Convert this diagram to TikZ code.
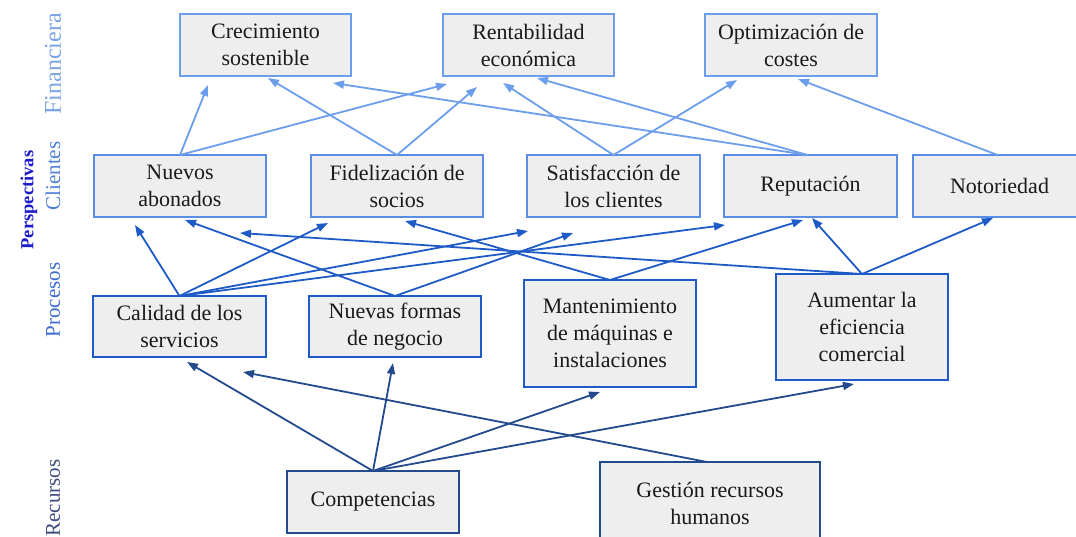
\documentclass[tikz,border=0pt]{standalone}
\usepackage{fontspec}
\setmainfont{Liberation Serif}
\usetikzlibrary{arrows.meta,calc}
\definecolor{finc}{HTML}{6D9EEB}
\definecolor{clic}{HTML}{5A8EE6}
\definecolor{proc}{HTML}{1E5BC6}
\definecolor{recc}{HTML}{244A8E}
\definecolor{boxfill}{HTML}{EEEEEE}
\definecolor{txt}{HTML}{1A1A1A}
\definecolor{labfin}{HTML}{7BA3E6}
\definecolor{labcli}{HTML}{4F7FD6}
\definecolor{labpro}{HTML}{3C6BCF}
\definecolor{labrec}{HTML}{3D4B7E}
\definecolor{labper}{HTML}{1C1CC8}
\begin{document}
\begin{tikzpicture}[x=1pt,y=-1pt,
  box/.style={draw, line width=2pt, fill=boxfill, text=txt, align=center,
    inner sep=0pt, outer sep=0pt, font=\fontsize{22}{27}\selectfont},
  finbox/.style={box, draw=finc},
  clibox/.style={box, draw=clic},
  probox/.style={box, draw=proc},
  recbox/.style={box, draw=recc},
  conn/.style={line width=1.8pt, -{Triangle[length=11pt,width=8pt]}},
  finarr/.style={conn, draw=finc, fill=finc},
  proarr/.style={conn, draw=proc, fill=proc},
  recarr/.style={conn, draw=recc, fill=recc},
  lab/.style={rotate=90, font=\fontsize{21}{26}\selectfont, inner sep=0pt}
]
\useasboundingbox (0,0) rectangle (1076,537);

% side labels
\node[lab, text=labfin, font=\fontsize{24}{28}\selectfont] (lfin) at (53,64) {Financiera};
\node[lab, text=labcli] (lcli) at (53,176) {Clientes};
\node[lab, text=labpro] (lpro) at (53,300) {Procesos};
\node[lab, text=labrec] (lrec) at (53,498) {Recursos};
\node[rotate=90, inner sep=0pt, text=labper, font=\fontsize{18.5}{22}\selectfont\bfseries] (lper) at (29,200) {Perspectivas};

% financial
\node[finbox, minimum width=171pt, minimum height=62pt] (crec) at (265.5,45) {Crecimiento\\sostenible};
\node[finbox, minimum width=171pt, minimum height=62pt] (rent) at (528.5,45) {Rentabilidad\\económica};
\node[finbox, minimum width=172pt, minimum height=62pt] (opt) at (791,45) {Optimización de\\costes};

% clients
\node[clibox, minimum width=172pt, minimum height=62pt] (nuev) at (180,186) {Nuevos\\abonados};
\node[clibox, minimum width=172pt, minimum height=62pt] (fid) at (397,186) {Fidelización de\\socios};
\node[clibox, minimum width=173pt, minimum height=62pt] (sat) at (613.5,186) {Satisfacción de\\los clientes};
\node[clibox, minimum width=173pt, minimum height=62pt] (rep) at (810.5,186) {Reputación};
\node[clibox, minimum width=173pt, minimum height=62pt] (not) at (999.5,186) {Notoriedad};

% processes
\node[probox, minimum width=173pt, minimum height=61pt] (cal) at (179.5,326.5) {Calidad de los\\servicios};
\node[probox, minimum width=172pt, minimum height=61pt] (nf) at (395,326.5) {Nuevas formas\\de negocio};
\node[probox, minimum width=172pt, minimum height=107pt] (man) at (610,333.5) {Mantenimiento\\de máquinas e\\instalaciones};
\node[probox, minimum width=172pt, minimum height=106pt] (aum) at (862,327) {Aumentar la\\eficiencia\\comercial};

% resources
\node[recbox, minimum width=172pt, minimum height=62pt] (comp) at (373,502) {Competencias};
\node[recbox, minimum width=220pt, minimum height=82pt] (ges) at (710,503) {Gestión recursos\\humanos};

% clients -> financial
\draw[finarr] (nuev.north) -- ($(crec.south west)+(28,9)$);
\draw[finarr] (nuev.north) -- ($(rent.south west)+(4,8)$);
\draw[finarr] (fid.north) -- ($(crec.south west)+(88,2)$);
\draw[finarr] (fid.north) -- ($(rent.south west)+(34,11)$);
\draw[finarr] ([xshift=-3pt]rep.north) -- ($(crec.south west)+(153,7)$);
\draw[finarr] ([xshift=-3pt]rep.north) -- ($(rent.south west)+(94,2)$);
\draw[finarr] (sat.north) -- ($(rent.south west)+(60,7)$);
\draw[finarr] (sat.north) -- ($(opt.south west)+(32,4)$);
\draw[finarr] ([xshift=-2pt]not.north) -- ($(opt.south west)+(93,3)$);

% processes -> clients
\draw[proarr] (cal.north) -- ($(nuev.south west)+(41,8)$);
\draw[proarr] (cal.north) -- ($(fid.south west)+(17,6)$);
\draw[proarr] (cal.north) -- ($(sat.south west)+(1,14)$);
\draw[proarr] (cal.north) -- ($(rep.south west)+(1,8)$);
\draw[proarr] (nf.north) -- ($(nuev.south west)+(91,3)$);
\draw[proarr] (nf.north) -- ($(sat.south west)+(46,16)$);
\draw[proarr] (man.north) -- ($(fid.south west)+(94,4)$);
\draw[proarr] (man.north) -- ($(rep.south west)+(79,3)$);
\draw[proarr] (aum.north) -- ($(rep.south west)+(88,1)$);
\draw[proarr] (aum.north) -- ($(not.south west)+(80,1)$);
\draw[proarr] (aum.north) -- ($(nuev.south west)+(146,16)$);

% resources -> processes
\draw[recarr] (comp.north) -- ($(cal.south west)+(94,5)$);
\draw[recarr] (comp.north) -- ($(nf.south west)+(84,6)$);
\draw[recarr] (comp.north) -- ($(man.south west)+(76,5)$);
\draw[recarr] (comp.north) -- ($(aum.south west)+(78,4)$);
\draw[recarr] ([xshift=-3pt]ges.north) -- ($(cal.south west)+(150,15)$);
\end{tikzpicture}
\end{document}
